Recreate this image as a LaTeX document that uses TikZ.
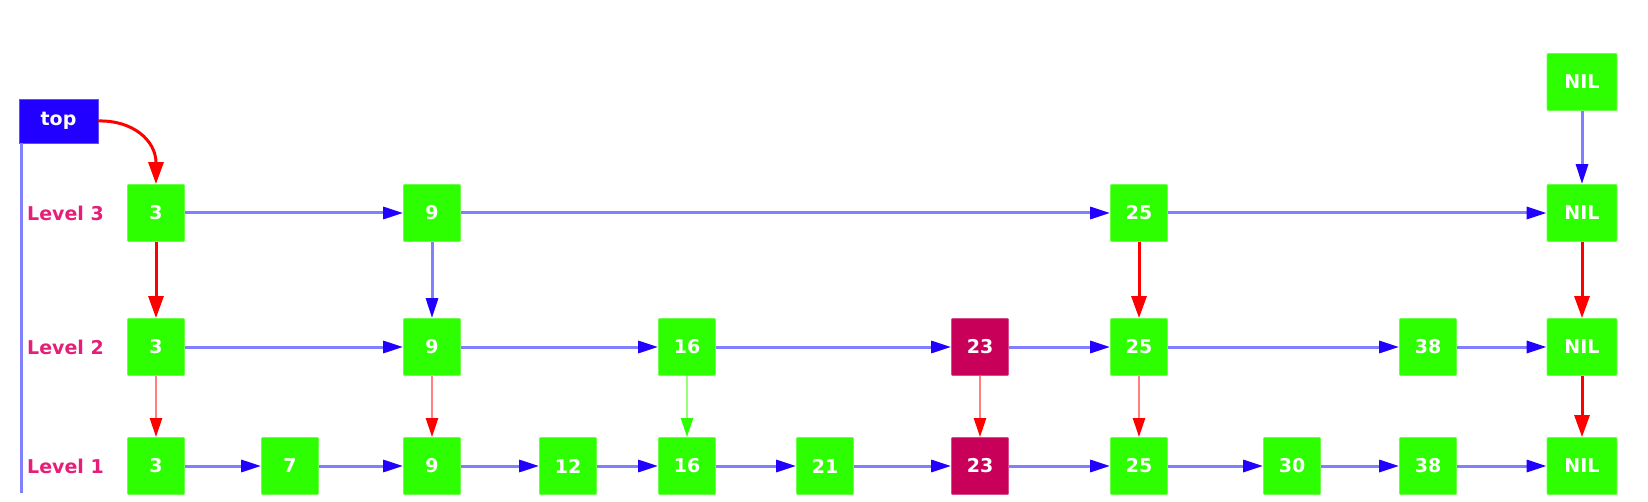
\documentclass[tikz,border=0pt]{standalone}
\usepackage{fontspec}
\setmainfont{DejaVu Sans}
\usetikzlibrary{arrows.meta}
\definecolor{ngreen}{RGB}{46,255,0}
\definecolor{nmag}{RGB}{200,0,90}
\definecolor{topblue}{RGB}{34,0,255}
\definecolor{lblue}{RGB}{128,128,255}
\definecolor{hblue}{RGB}{34,0,255}
\definecolor{lred}{RGB}{255,128,128}
\definecolor{lgreen}{RGB}{150,255,120}
\definecolor{lvl}{RGB}{230,30,120}
\begin{document}
\begin{tikzpicture}[x=1pt,y=-1pt,
  nd/.style={fill=ngreen, draw=ngreen!70!white, line width=0.8pt, rounded corners=1pt, minimum width=57pt, minimum height=57pt, inner sep=0pt, text=white, font=\fontsize{19}{22}\selectfont\bfseries},
  nilnd/.style={nd, minimum width=70pt},
  magnd/.style={nd, fill=nmag, draw=nmag!70!white},
  lvllab/.style={anchor=west, text=lvl, inner sep=0pt, font=\fontsize{19}{22}\selectfont\bfseries},
  harr/.style={draw=lblue, line width=3pt, -{Triangle[length=20pt,width=12pt,color=hblue]}},
  varr/.style={harr},
  rarr/.style={draw=red, line width=3pt, -{Triangle[length=22pt,width=15pt,color=red]}},
  lrarr/.style={draw=lred, line width=2.4pt, -{Triangle[length=19pt,width=12pt,color=red]}},
  lgarr/.style={draw=lgreen, line width=2.4pt, -{Triangle[length=19pt,width=12pt,color=ngreen]}},
]
\useasboundingbox (0,0) rectangle (1648,502);
% top box and vertical line
\node[fill=topblue, draw=topblue!70!white, minimum width=79pt, minimum height=44pt, inner sep=0pt, text=white, font=\fontsize{19}{22}\selectfont\bfseries] (top) at (58.5,121) {top};
\coordinate (vlineend) at (21,493);
\draw[lblue, line width=3pt] (top.south west -| vlineend) -- (vlineend);
% labels
\node[lvllab] (l3) at (27,213) {Level 3};
\node[lvllab] (l2) at (27,347) {Level 2};
\node[lvllab] (l1) at (27,466) {Level 1};
% top NIL
\node[nilnd] (nil0) at (1582,82) {NIL};
% level 3
\node[nd] (a3) at (156,213) {3};
\node[nd] (a9) at (432,213) {9};
\node[nd] (a25) at (1139,213) {25};
\node[nilnd] (anil) at (1582,213) {NIL};
% level 2
\node[nd] (b3) at (156,347) {3};
\node[nd] (b9) at (432,347) {9};
\node[nd] (b16) at (687,347) {16};
\node[magnd] (b23) at (980,347) {23};
\node[nd] (b25) at (1139,347) {25};
\node[nd] (b38) at (1428,347) {38};
\node[nilnd] (bnil) at (1582,347) {NIL};
% level 1
\node[nd] (c3) at (156,466) {3};
\node[nd] (c7) at (290,466) {7};
\node[nd] (c9) at (432,466) {9};
\node[nd] (c12) at (568,466) {12};
\node[nd] (c16) at (687,466) {16};
\node[nd] (c21) at (825,466) {21};
\node[magnd] (c23) at (980,466) {23};
\node[nd] (c25) at (1139,466) {25};
\node[nd] (c30) at (1292,466) {30};
\node[nd] (c38) at (1428,466) {38};
\node[nilnd] (cnil) at (1582,466) {NIL};
% top curve
\draw[draw=red, line width=3pt, -{Triangle[length=22pt,width=15pt,color=red]}] (top.east) .. controls (132,120) and (156,140) .. (a3.north);
% horizontal level 3
\draw[harr] (a3) -- (a9);
\draw[harr] (a9) -- (a25);
\draw[harr] (a25) -- (anil);
% horizontal level 2
\draw[harr] (b3) -- (b9);
\draw[harr] (b9) -- (b16);
\draw[harr] (b16) -- (b23);
\draw[harr] (b23) -- (b25);
\draw[harr] (b25) -- (b38);
\draw[harr] (b38) -- (bnil);
% horizontal level 1
\draw[harr] (c3) -- (c7);
\draw[harr] (c7) -- (c9);
\draw[harr] (c9) -- (c12);
\draw[harr] (c12) -- (c16);
\draw[harr] (c16) -- (c21);
\draw[harr] (c21) -- (c23);
\draw[harr] (c23) -- (c25);
\draw[harr] (c25) -- (c30);
\draw[harr] (c30) -- (c38);
\draw[harr] (c38) -- (cnil);
% vertical
\draw[varr] (nil0) -- (anil);
\draw[rarr] (a3) -- (b3);
\draw[varr] (a9) -- (b9);
\draw[rarr] (a25) -- (b25);
\draw[rarr] (anil) -- (bnil);
\draw[lrarr] (b3) -- (c3);
\draw[lrarr] (b9) -- (c9);
\draw[lgarr] (b16) -- (c16);
\draw[lrarr] (b23) -- (c23);
\draw[lrarr] (b25) -- (c25);
\draw[rarr] (bnil) -- (cnil);
\end{tikzpicture}
\end{document}
